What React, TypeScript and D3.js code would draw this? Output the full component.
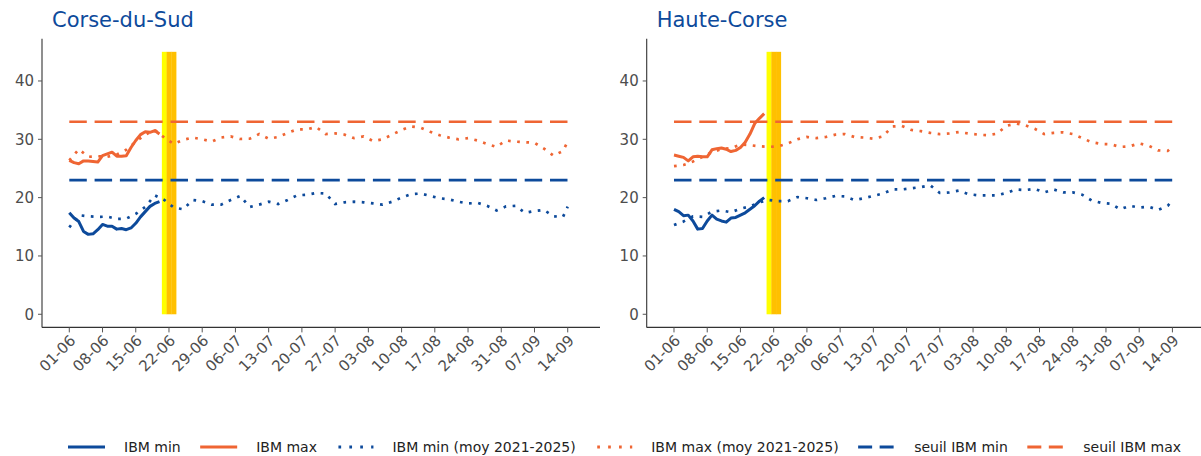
import React, { useEffect, useRef } from 'react';
import * as d3 from 'd3';

const BLUE = '#0d4a9b';
const ORANGE = '#ef6533';
const FONT = 'DejaVu Sans, sans-serif';

const departements = ['Corse-du-Sud', 'Haute-Corse'];
const tickLabels = ['01-06', '08-06', '15-06', '22-06', '29-06', '06-07', '13-07', '20-07', '27-07', '03-08', '10-08', '17-08', '24-08', '31-08', '07-09', '14-09'];
const yTicks = [0, 10, 20, 30, 40];

// observed 2025, daily from 01-06
const obsStart = '01-06';
const cdsMinObs = [17.4, 16.5, 15.9, 14.2, 13.7, 13.8, 14.5, 15.4, 15.1, 15.1, 14.6, 14.7, 14.5, 14.8, 15.6, 16.7, 17.6, 18.5, 19.0, 19.3];
const cdsMaxObs = [26.4, 26.0, 25.8, 26.3, 26.3, 26.2, 26.1, 27.2, 27.5, 27.8, 27.1, 27.1, 27.2, 28.6, 29.8, 30.8, 31.3, 31.2, 31.5, 30.9];
const hcMinObs = [18.0, 17.6, 16.9, 17.0, 16.0, 14.6, 14.7, 16.0, 17.0, 16.3, 16.0, 15.8, 16.5, 16.6, 17.0, 17.4, 18.0, 18.6, 19.4, 20.0];
const hcMaxObs = [27.3, 27.1, 26.9, 26.3, 27.0, 27.1, 27.0, 27.0, 28.2, 28.4, 28.5, 28.3, 27.9, 28.1, 28.6, 29.5, 30.9, 32.7, 33.6, 34.4];

// moyenne 2021-2025, every 2nd day from 01-06, last value 14-09
const moyLastDay = '14-09';
const cdsMinMoy = [14.9, 17.0, 16.8, 16.7, 16.75, 16.35, 16.4, 17.2, 18.4, 20.4, 19.6, 18.3, 18.0, 19.6, 19.4, 18.8, 18.8, 19.6, 20.3, 18.4, 18.8, 19.3, 18.9, 19.6, 20.4, 20.5, 20.8, 20.7, 18.9, 19.2, 19.3, 19.2, 19.0, 18.8, 19.3, 20.0, 20.6, 20.7, 20.3, 19.9, 19.7, 19.3, 19.0, 19.1, 18.6, 17.8, 18.5, 18.6, 17.4, 17.7, 17.9, 16.8, 16.7, 18.45];
const cdsMaxMoy = [26.4, 28.3, 27.0, 27.1, 27.0, 27.4, 28.2, 29.6, 30.8, 31.6, 30.3, 29.2, 29.9, 30.3, 30.0, 29.6, 30.3, 30.5, 30.05, 30.1, 30.9, 30.1, 30.4, 31.1, 31.7, 31.7, 32.1, 30.9, 31.0, 30.8, 30.2, 30.5, 29.7, 30.0, 30.8, 31.6, 32.2, 32.0, 31.3, 30.7, 30.3, 30.0, 30.2, 29.8, 29.2, 28.7, 29.8, 29.6, 29.5, 29.4, 28.4, 27.2, 28.0, 29.6];
const hcMinMoy = [15.3, 15.9, 16.8, 16.7, 17.6, 17.8, 17.5, 18.1, 18.5, 19.2, 19.6, 19.4, 19.4, 20.1, 19.9, 19.6, 19.9, 20.3, 20.2, 19.6, 19.9, 20.3, 20.7, 21.4, 21.4, 21.6, 21.8, 22.1, 20.8, 20.9, 21.2, 20.6, 20.4, 20.4, 20.4, 20.8, 21.4, 21.3, 21.5, 20.9, 21.4, 20.9, 20.9, 20.5, 19.5, 19.1, 18.95, 18.0, 18.6, 18.3, 18.45, 17.9, 18.6, 19.5];
const hcMaxMoy = [25.4, 25.6, 26.2, 27.0, 27.8, 28.3, 28.5, 29.1, 29.0, 28.8, 28.7, 28.8, 29.3, 30.0, 30.4, 30.2, 30.4, 30.8, 30.9, 30.4, 30.3, 30.1, 30.5, 32.2, 32.3, 31.6, 31.4, 31.1, 30.9, 31.0, 31.25, 31.0, 30.8, 30.7, 30.95, 32.3, 32.7, 32.4, 31.8, 30.9, 31.1, 31.2, 30.9, 30.2, 29.5, 29.2, 29.15, 28.7, 28.8, 29.3, 28.9, 28.1, 28.0, 28.7];

const seuilMin = 23;
const seuilMax = 33;
const vigilanceJaune = ['21-06'];
const vigilanceOrange = ['22-06', '23-06'];

const legendItems = [
  { label: 'IBM min', color: BLUE, dash: null },
  { label: 'IBM max', color: ORANGE, dash: null },
  { label: 'IBM min (moy 2021-2025)', color: BLUE, dash: 'dot' },
  { label: 'IBM max (moy 2021-2025)', color: ORANGE, dash: 'dot' },
  { label: 'seuil IBM min', color: BLUE, dash: 'dash' },
  { label: 'seuil IBM max', color: ORANGE, dash: 'dash' },
];

const parseDay = d3.utcParse('%d-%m-%Y');
const toDate = (s) => parseDay(s + '-2025');
const DAY = 864e5;

const App = () => {
  const ref = useRef();

  useEffect(() => {
    const svg = d3.select(ref.current);
    svg.selectAll('*').remove();
    const width = 1201;
    const height = 456;
    svg.attr('width', width).attr('height', height);

    const start = toDate(obsStart);
    const end = toDate(moyLastDay);
    const obsDates = cdsMinObs.map((_, i) => d3.utcDay.offset(start, i));
    const moyDates = d3.range(0, cdsMinMoy.length - 1).map((i) => d3.utcDay.offset(start, i * 2)).concat([end]);

    const panels = [
      { name: departements[0], minObs: cdsMinObs, maxObs: cdsMaxObs, minMoy: cdsMinMoy, maxMoy: cdsMaxMoy },
      { name: departements[1], minObs: hcMinObs, maxObs: hcMaxObs, minMoy: hcMinMoy, maxMoy: hcMaxMoy },
    ];

    const y = d3.scaleLinear().domain([-2.25, 47.25]).range([327.4, 38.7]);

    panels.forEach((p, k) => {
      const left = 42 + k * 604.7;
      const right = left + 558;
      const x = d3.scaleUtc()
        .domain([new Date(start.getTime() - 5.75 * DAY), new Date(start.getTime() + 111.8 * DAY)])
        .range([left, right]);

      const g = svg.append('g');

      // vigilance bands
      const band = (days, color) => {
        days.forEach((d) => {
          const t = toDate(d).getTime();
          const x0 = x(new Date(t - 0.5 * DAY));
          const x1 = x(new Date(t + 0.5 * DAY));
          g.append('rect')
            .attr('x', x0)
            .attr('width', x1 - x0 + 0.3)
            .attr('y', y(45))
            .attr('height', y(0) - y(45))
            .attr('fill', color);
        });
      };
      band(vigilanceJaune, '#ffff00');
      band(vigilanceOrange, '#ffc000');

      // seuils
      [[seuilMin, BLUE], [seuilMax, ORANGE]].forEach(([v, c]) => {
        g.append('line')
          .attr('x1', x(start)).attr('x2', x(end))
          .attr('y1', y(v)).attr('y2', y(v))
          .attr('stroke', c)
          .attr('stroke-width', 2.6)
          .attr('stroke-dasharray', '17.5 7.8');
      });

      const line = d3.line().x((d) => x(d[0])).y((d) => y(d[1]));

      [[p.minMoy, BLUE], [p.maxMoy, ORANGE]].forEach(([vals, c]) => {
        g.append('path')
          .attr('d', line(vals.map((v, i) => [moyDates[i], v])))
          .attr('fill', 'none')
          .attr('stroke', c)
          .attr('stroke-width', 2.7)
          .attr('stroke-dasharray', '2.7 6.5');
      });

      [[p.minObs, BLUE], [p.maxObs, ORANGE]].forEach(([vals, c]) => {
        g.append('path')
          .attr('d', line(vals.map((v, i) => [obsDates[i], v])))
          .attr('fill', 'none')
          .attr('stroke', c)
          .attr('stroke-width', 3)
          .attr('stroke-linejoin', 'round');
      });

      // axes
      g.append('line')
        .attr('x1', left).attr('x2', left)
        .attr('y1', y.range()[1]).attr('y2', y.range()[0])
        .attr('stroke', '#333').attr('stroke-width', 1.1);
      g.append('line')
        .attr('x1', left).attr('x2', right)
        .attr('y1', y.range()[0]).attr('y2', y.range()[0])
        .attr('stroke', '#333').attr('stroke-width', 1.1);

      yTicks.forEach((t) => {
        g.append('line')
          .attr('x1', left - 4).attr('x2', left)
          .attr('y1', y(t)).attr('y2', y(t))
          .attr('stroke', '#555').attr('stroke-width', 1);
        g.append('text')
          .attr('x', left - 8).attr('y', y(t))
          .attr('dy', '0.36em')
          .attr('text-anchor', 'end')
          .attr('font-family', FONT)
          .attr('font-size', 15)
          .attr('fill', '#4d4d4d')
          .text(t);
      });

      tickLabels.forEach((lab) => {
        const tx = x(toDate(lab));
        const y0 = y.range()[0];
        g.append('line')
          .attr('x1', tx).attr('x2', tx)
          .attr('y1', y0).attr('y2', y0 + 5)
          .attr('stroke', '#555').attr('stroke-width', 1);
        g.append('text')
          .attr('transform', `translate(${tx + 3.5},${y0 + 10.5}) rotate(-45)`)
          .attr('dy', '0.35em')
          .attr('text-anchor', 'end')
          .attr('font-family', FONT)
          .attr('font-size', 15)
          .attr('fill', '#4d4d4d')
          .text(lab);
      });

      g.append('text')
        .attr('x', left + 10)
        .attr('y', 27)
        .attr('font-family', FONT)
        .attr('font-size', 21)
        .attr('fill', '#0d4a9b')
        .text(p.name);
    });

    // legend
    const lg = svg.append('g');
    const ly = 447;
    let cx = 0;
    legendItems.forEach((it) => {
      const item = lg.append('g').attr('transform', `translate(${cx},0)`);
      const key = item.append('line')
        .attr('x1', 0).attr('x2', 37)
        .attr('y1', ly).attr('y2', ly)
        .attr('stroke', it.color)
        .attr('stroke-width', 3);
      if (it.dash === 'dot') key.attr('stroke-dasharray', '2.7 8.2').attr('x1', 2);
      if (it.dash === 'dash') key.attr('stroke-dasharray', '14 7.5').attr('stroke-width', 2.8);
      const txt = item.append('text')
        .attr('x', 56)
        .attr('y', ly)
        .attr('dy', '0.35em')
        .attr('font-family', FONT)
        .attr('font-size', 14)
        .attr('fill', '#222')
        .text(it.label);
      cx += 56 + txt.node().getComputedTextLength() + 19.5;
    });
    lg.attr('transform', `translate(${68},0)`);

    return () => {
      svg.selectAll('*').remove();
    };
  }, []);

  return <svg ref={ref} style={{ position: 'absolute', left: 0, top: 0 }}></svg>;
};

export default App;
